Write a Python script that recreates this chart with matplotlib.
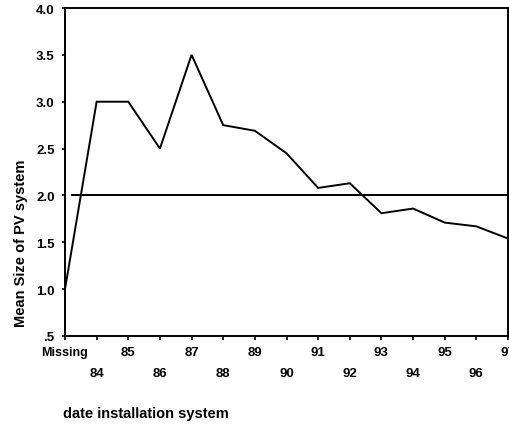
import matplotlib
matplotlib.use("Agg")
import matplotlib.pyplot as plt

categories = ["Missing", "84", "85", "86", "87", "88", "89", "90",
              "91", "92", "93", "94", "95", "96", "97"]
mean_size = [1.0, 3.0, 3.0, 2.5, 3.5, 2.75, 2.69, 2.45,
             2.08, 2.13, 1.81, 1.86, 1.71, 1.67, 1.54]
reference_level = 2.0
reference_start = 0.2
y_ticks = [0.5, 1.0, 1.5, 2.0, 2.5, 3.0, 3.5, 4.0]
y_tick_labels = [".5", "1.0", "1.5", "2.0", "2.5", "3.0", "3.5", "4.0"]

plt.rcParams["font.family"] = ["Liberation Sans", "DejaVu Sans"]
plt.rcParams["font.weight"] = "bold"

fig = plt.figure(figsize=(5.09, 4.27), dpi=100)
ax = fig.add_axes([65 / 509, 1 - 337 / 427, 443 / 509, 328 / 427])

x = list(range(len(categories)))
ax.plot(x, mean_size, color="black", linewidth=1.4, solid_joinstyle="miter")
ax.hlines(reference_level, reference_start, x[-1], color="black", linewidth=1.4)

ax.set_xlim(0, len(categories) - 1)
ax.set_ylim(0.5, 4.0)

ax.set_yticks(y_ticks)
ax.set_yticklabels(y_tick_labels, fontsize=9.5, fontweight="bold")

# staggered category labels: even positions on the first row, odd on the second
ax.set_xticks(x[0::2])
ax.set_xticklabels(categories[0::2], fontsize=9, fontweight="bold")
ax.set_xticks(x[1::2], minor=True)
ax.set_xticklabels(categories[1::2], minor=True, fontsize=9.5, fontweight="bold")
for lbl in ax.get_xticklabels()[1:]:
    lbl.set_fontsize(9.5)

ax.tick_params(axis="x", which="major", direction="out", length=3, width=1.2, pad=4.5)
ax.tick_params(axis="x", which="minor", direction="out", length=3, width=1.2, pad=19.5)
ax.tick_params(axis="y", direction="out", length=2.5, width=1.2, pad=5)

for side in ["left", "right", "top", "bottom"]:
    ax.spines[side].set_linewidth(1.4)
    ax.spines[side].set_color("black")

ax.set_ylabel("Mean Size of PV system", fontsize=10.5, fontweight="bold")
ax.yaxis.set_label_coords((28 - 65) / 443, (337 - 243) / 328)
fig.text(63 / 509, 1 - 414 / 427, "date installation system", fontsize=10.5,
         fontweight="bold", ha="left", va="center")

fig.savefig("out.png", dpi=100)
